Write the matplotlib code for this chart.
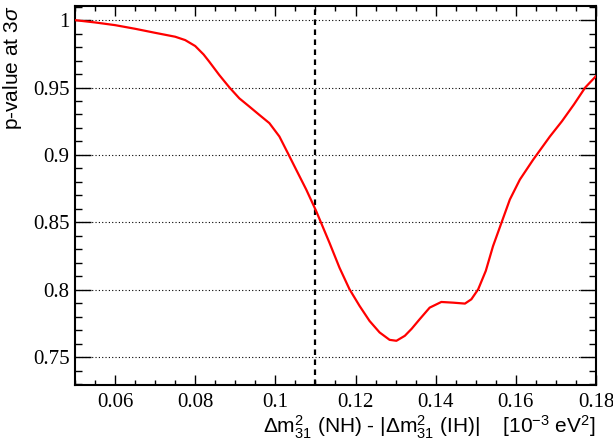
import matplotlib
matplotlib.use('agg')
import matplotlib.pyplot as plt
from matplotlib.ticker import MultipleLocator

# p-value scan vs. mass-splitting difference
dm_diff = [0.0500, 0.0550, 0.0600, 0.0650, 0.0700, 0.0750, 0.0775, 0.0800,
           0.0821, 0.0835, 0.0860, 0.0885, 0.0910, 0.0935, 0.0960, 0.0985,
           0.1010, 0.1031, 0.1052, 0.1077, 0.1102, 0.1135, 0.1160, 0.1185,
           0.1210, 0.1235, 0.1260, 0.1285, 0.1302, 0.1323, 0.1340, 0.1360,
           0.1385, 0.1414, 0.1443, 0.1473, 0.1489, 0.1506, 0.1525, 0.1543,
           0.1564, 0.1585, 0.1610, 0.1643, 0.1685, 0.1715, 0.1745, 0.1773,
           0.1800]
p_value = [1.0000, 0.9983, 0.9963, 0.9936, 0.9906, 0.9877, 0.9852, 0.9808,
           0.9745, 0.9692, 0.9593, 0.9502, 0.9420, 0.9359, 0.9297, 0.9236,
           0.9137, 0.9014, 0.8890, 0.8743, 0.8582, 0.8348, 0.8163, 0.8003,
           0.7880, 0.7768, 0.7683, 0.7628, 0.7621, 0.7658, 0.7710, 0.7781,
           0.7867, 0.7909, 0.7904, 0.7897, 0.7929, 0.8003, 0.8140, 0.8323,
           0.8496, 0.8669, 0.8817, 0.8964, 0.9137, 0.9250, 0.9375, 0.9500,
           0.9585]
dm_ref = 0.11

x_ticks = [0.06, 0.08, 0.10, 0.12, 0.14, 0.16, 0.18]
x_ticklabels = ['0.06', '0.08', '0.1', '0.12', '0.14', '0.16', '0.18']
y_ticks = [0.75, 0.80, 0.85, 0.90, 0.95, 1.00]
y_ticklabels = ['0.75', '0.8', '0.85', '0.9', '0.95', '1']

plt.rcParams['mathtext.fontset'] = 'custom'
plt.rcParams['mathtext.rm'] = 'Liberation Sans'
plt.rcParams['mathtext.it'] = 'Liberation Sans:italic'

fig = plt.figure(figsize=(6.13, 4.41), dpi=100)
ax = fig.add_axes([0.1223, 0.127, 0.85, 0.8594])

ax.plot(dm_diff, p_value, color='red', lw=1.6, zorder=3,
        solid_joinstyle='round')
ax.axvline(dm_ref, color='black', lw=1.6, ls=(0, (2.5, 2)), zorder=2)

ax.set_xlim(0.05, 0.18)
ax.set_ylim(0.7293, 1.0105)

ax.set_xticks(x_ticks, x_ticklabels, fontfamily='Liberation Serif', fontsize=15)
ax.set_yticks(y_ticks, y_ticklabels, fontfamily='Liberation Serif', fontsize=15)
ax.xaxis.set_minor_locator(MultipleLocator(0.005))
ax.yaxis.set_minor_locator(MultipleLocator(0.01))

ax.grid(axis='y', which='major', color='black', ls=(0, (1, 2)), lw=0.8)

ax.tick_params(which='both', direction='in', top=True, right=True, width=1)
ax.tick_params(axis='x', which='major', length=7.2, pad=6)
ax.tick_params(axis='x', which='minor', length=3.6)
ax.tick_params(axis='y', which='major', length=11.5, pad=4)
ax.tick_params(axis='y', which='minor', length=5)
for s in ax.spines.values():
    s.set_linewidth(1.5)

ax.set_ylabel(r'p-value at 3$\sigma$', family='Liberation Sans', fontsize=15,
              loc='top', labelpad=6)
ax.set_xlabel(r'$\Delta$m$^{2}_{31}$ (NH) - |$\Delta$m$^{2}_{31}$ (IH)|    [10$^{-3}$ eV$^{2}$]',
              family='Liberation Sans', fontsize=15, loc='right', labelpad=1)

fig.savefig('out.png', dpi=100)
